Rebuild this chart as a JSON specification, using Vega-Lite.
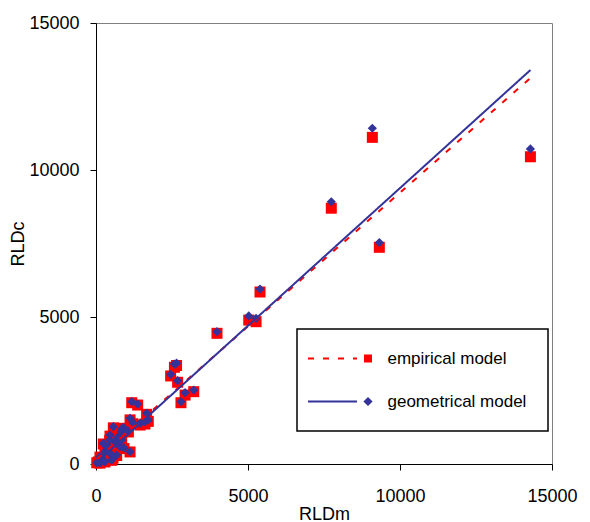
{
  "$schema": "https://vega.github.io/schema/vega-lite/v6.json",
  "width": 456,
  "height": 441,
  "autosize": {"type": "none"},
  "padding": {"left": 96, "top": 23, "right": 38, "bottom": 58},
  "background": "white",
  "config": {
    "view": {"stroke": "#808080", "strokeWidth": 1},
    "font": "Liberation Sans",
    "axis": {
      "grid": false,
      "domainColor": "black",
      "domainWidth": 1,
      "tickColor": "black",
      "tickSize": 6,
      "labelFont": "Liberation Sans",
      "labelFontSize": 18,
      "labelColor": "black",
      "titleFont": "Liberation Sans",
      "titleFontSize": 18,
      "titleFontWeight": "normal",
      "titleColor": "black"
    }
  },
  "datasets": {
    "points": [
      {"RLDm": 25, "empirical": 40, "geometrical": 45},
      {"RLDm": 75, "empirical": 70, "geometrical": 80},
      {"RLDm": 130, "empirical": 235, "geometrical": 250},
      {"RLDm": 130, "empirical": 30, "geometrical": 35},
      {"RLDm": 195, "empirical": 195, "geometrical": 205},
      {"RLDm": 240, "empirical": 680, "geometrical": 700},
      {"RLDm": 295, "empirical": 400, "geometrical": 420},
      {"RLDm": 295, "empirical": 70, "geometrical": 80},
      {"RLDm": 360, "empirical": 490, "geometrical": 510},
      {"RLDm": 405, "empirical": 570, "geometrical": 590},
      {"RLDm": 450, "empirical": 800, "geometrical": 820},
      {"RLDm": 460, "empirical": 350, "geometrical": 365},
      {"RLDm": 460, "empirical": 950, "geometrical": 985},
      {"RLDm": 515, "empirical": 125, "geometrical": 135},
      {"RLDm": 560, "empirical": 195, "geometrical": 205},
      {"RLDm": 570, "empirical": 1230, "geometrical": 1270},
      {"RLDm": 625, "empirical": 735, "geometrical": 760},
      {"RLDm": 680, "empirical": 290, "geometrical": 305},
      {"RLDm": 725, "empirical": 890, "geometrical": 920},
      {"RLDm": 790, "empirical": 570, "geometrical": 590},
      {"RLDm": 830, "empirical": 1070, "geometrical": 1100},
      {"RLDm": 845, "empirical": 790, "geometrical": 815},
      {"RLDm": 845, "empirical": 1150, "geometrical": 1180},
      {"RLDm": 898, "empirical": 1215, "geometrical": 1250},
      {"RLDm": 920, "empirical": 525, "geometrical": 545},
      {"RLDm": 1065, "empirical": 1090, "geometrical": 1120},
      {"RLDm": 1120, "empirical": 1500, "geometrical": 1555},
      {"RLDm": 1120, "empirical": 410, "geometrical": 420},
      {"RLDm": 1175, "empirical": 2085, "geometrical": 2120},
      {"RLDm": 1215, "empirical": 1370, "geometrical": 1405},
      {"RLDm": 1370, "empirical": 2005, "geometrical": 2040},
      {"RLDm": 1450, "empirical": 1325, "geometrical": 1385},
      {"RLDm": 1610, "empirical": 1360, "geometrical": 1440},
      {"RLDm": 1665, "empirical": 1690, "geometrical": 1725},
      {"RLDm": 1720, "empirical": 1450, "geometrical": 1500},
      {"RLDm": 2455, "empirical": 2995, "geometrical": 3050},
      {"RLDm": 2580, "empirical": 3290, "geometrical": 3400},
      {"RLDm": 2650, "empirical": 3350, "geometrical": 3430},
      {"RLDm": 2685, "empirical": 2780, "geometrical": 2835},
      {"RLDm": 2795, "empirical": 2085, "geometrical": 2120},
      {"RLDm": 2930, "empirical": 2345, "geometrical": 2425},
      {"RLDm": 3215, "empirical": 2460, "geometrical": 2515},
      {"RLDm": 3980, "empirical": 4445, "geometrical": 4500},
      {"RLDm": 5025, "empirical": 4895, "geometrical": 5035},
      {"RLDm": 5265, "empirical": 4840, "geometrical": 4955},
      {"RLDm": 5395, "empirical": 5850, "geometrical": 5950},
      {"RLDm": 7740, "empirical": 8700, "geometrical": 8920},
      {"RLDm": 9090, "empirical": 11110, "geometrical": 11420},
      {"RLDm": 9320, "empirical": 7370, "geometrical": 7530},
      {"RLDm": 14290, "empirical": 10450, "geometrical": 10715}
    ],
    "trend": [
      {"model": "empirical model", "RLDm": 25, "RLDc": 160},
      {"model": "empirical model", "RLDm": 14290, "RLDc": 13130},
      {"model": "geometrical model", "RLDm": 25, "RLDc": 50},
      {"model": "geometrical model", "RLDm": 14290, "RLDc": 13400}
    ]
  },
  "layer": [
    {
      "data": {"name": "points"},
      "mark": {"type": "point", "shape": "square", "filled": true, "size": 121, "color": "#FF0000", "opacity": 1, "strokeWidth": 0},
      "encoding": {
        "x": {"field": "RLDm", "type": "quantitative", "title": "RLDm",
              "scale": {"domain": [0, 15000], "nice": false},
              "axis": {"values": [0, 5000, 10000, 15000], "format": "d", "labelFlush": false, "labelOverlap": false, "labelPadding": 17, "titlePadding": 0}},
        "y": {"field": "empirical", "type": "quantitative", "title": "RLDc",
              "scale": {"domain": [0, 15000], "nice": false},
              "axis": {"values": [0, 5000, 10000, 15000], "format": "d", "labelOverlap": false, "labelPadding": 11, "titlePadding": 1}}
      }
    },
    {
      "data": {"name": "points"},
      "mark": {"type": "point", "shape": "diamond", "filled": true, "size": 85, "color": "#333399", "opacity": 1, "strokeWidth": 0},
      "encoding": {
        "x": {"field": "RLDm", "type": "quantitative", "title": "RLDm"},
        "y": {"field": "geometrical", "type": "quantitative", "title": "RLDc"}
      }
    },
    {
      "data": {"name": "trend"},
      "mark": {"type": "line", "strokeWidth": 2},
      "encoding": {
        "x": {"field": "RLDm", "type": "quantitative", "title": "RLDm"},
        "y": {"field": "RLDc", "type": "quantitative", "title": "RLDc"},
        "color": {
          "field": "model", "type": "nominal",
          "scale": {"domain": ["empirical model", "geometrical model"], "range": ["#FF0000", "#333399"]},
          "legend": {
            "title": null,
            "orient": "none",
            "legendX": 201,
            "legendY": 306,
            "strokeColor": "black",
            "padding": 21,
            "rowPadding": 25,
            "symbolSize": 64,
            "symbolStrokeWidth": 0,
            "symbolOffset": 41.5,
            "labelOffset": 11,
            "labelFont": "Liberation Sans",
            "labelFontSize": 17,
            "labelColor": "black",
            "encode": {
              "legend": {"update": {"strokeWidth": {"value": 1.5}}},
              "symbols": {
                "update": {
                  "shape": {"signal": "datum.value === 'empirical model' ? 'M-15,-0.25H-13.5V0.25H-15Z M-11.25,-0.25H-9.75V0.25H-11.25Z M-7.5,-0.25H-6V0.25H-7.5Z M-3.75,-0.25H-2.75V0.25H-3.75Z M-1,-1H1V1H-1Z' : 'M-15,-0.25H-2.75V0.25H-15Z M0,-1.15L1.15,0L0,1.15L-1.15,0Z'"},
                  "fill": {"signal": "datum.value === 'empirical model' ? '#FF0000' : '#333399'"},
                  "fillOpacity": {"value": 1},
                  "strokeWidth": {"value": 0}
                }
              }
            }
          }
        },
        "strokeDash": {
          "field": "model", "type": "nominal",
          "scale": {"domain": ["empirical model", "geometrical model"], "range": [[6, 9], [1, 0]]},
          "legend": null
        }
      }
    }
  ]
}
